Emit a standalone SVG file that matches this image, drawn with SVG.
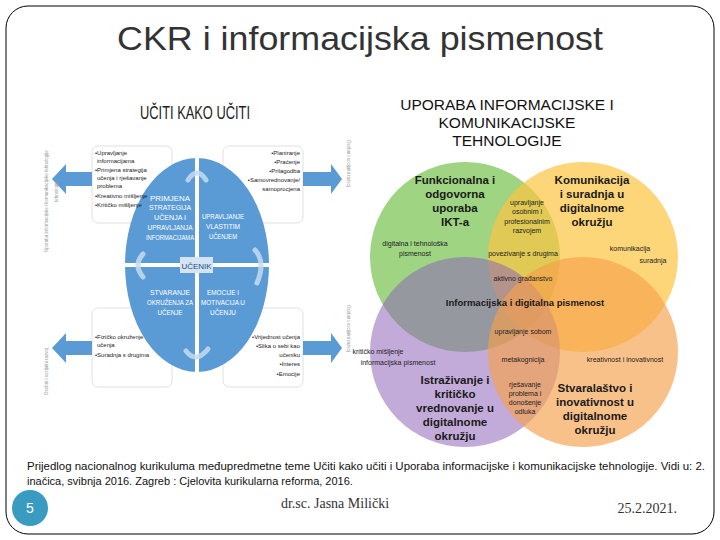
<svg xmlns="http://www.w3.org/2000/svg" width="720" height="540" viewBox="0 0 720 540">
<style>
.t{font-family:"Liberation Sans",Arial,sans-serif}
.ser{font-family:"Liberation Serif","Times New Roman",serif}
.q{font-family:"Liberation Sans",Arial,sans-serif;font-size:7.5px;fill:#fff;text-anchor:middle}
.b{font-family:"Liberation Sans",Arial,sans-serif;font-size:6px;fill:#222}
.v{font-family:"Liberation Sans",Arial,sans-serif;font-size:4.5px;fill:#9a9a9a}
.vb{font-family:"Liberation Sans",Arial,sans-serif;font-size:11.5px;font-weight:bold;fill:#1a1a1a;text-anchor:middle}
.vs{font-family:"Liberation Sans",Arial,sans-serif;font-size:7px;fill:#222;text-anchor:middle}
.box{fill:#fff;stroke:#d8d8d8;stroke-width:0.8}
.arr{fill:#5b9bd5}
.cyc{fill:none;stroke:#c6dcf0;stroke-width:5;stroke-linecap:round;opacity:0.85}
</style>
<rect x="6" y="6" width="708" height="528" rx="22" ry="22" fill="#fff" stroke="#000" stroke-width="1"/>
<text class="t" x="360" y="50" font-size="34" text-anchor="middle" fill="#333" textLength="486" lengthAdjust="spacingAndGlyphs">CKR i informacijska pismenost</text>

<g id="ucitiKakoUciti">
<text class="t" x="195" y="119" font-size="19" text-anchor="middle" fill="#222" textLength="110" lengthAdjust="spacingAndGlyphs">UČITI KAKO UČITI</text>
<rect class="box" x="92" y="146" width="80" height="77" rx="6"/>
<rect class="box" x="223" y="146" width="80" height="77" rx="6"/>
<rect class="box" x="92" y="308" width="80" height="79" rx="6"/>
<rect class="box" x="223" y="308" width="80" height="79" rx="6"/>
<path class="arr" d="M52,179 L66,164 L66,172 L92,172 L92,186 L66,186 L66,194 Z"/>
<path class="arr" d="M52,348 L66,333 L66,341 L92,341 L92,355 L66,355 L66,363 Z"/>
<path class="arr" d="M342,179 L331,164 L331,172 L303,172 L303,186 L331,186 L331,194 Z"/>
<path class="arr" d="M342,348 L331,333 L331,341 L303,341 L303,355 L331,355 L331,363 Z"/>
<ellipse cx="197" cy="265" rx="72" ry="107" fill="#5b9bd5"/>
<rect x="195" y="158" width="4" height="214" fill="#fff"/>
<rect x="125" y="263" width="144" height="4" fill="#fff"/>
<rect x="180" y="257" width="33" height="16" fill="#d4e4f4"/>
<text class="t" x="196.5" y="269" font-size="8" text-anchor="middle" fill="#1f4e79">UČENIK</text>
<path class="cyc" d="M188,180 Q197,166 206,180"/>
<path class="cyc" d="M143,254 Q133,265 143,277"/>
<path class="cyc" d="M255,250 Q266,262 257,283"/>
<path class="cyc" d="M186,351 Q196,364 208,349"/>
<text class="q" x="170" y="201" textLength="40" lengthAdjust="spacingAndGlyphs">PRIMJENA</text>
<text class="q" x="170" y="210" textLength="42" lengthAdjust="spacingAndGlyphs">STRATEGIJA</text>
<text class="q" x="170" y="220" textLength="32" lengthAdjust="spacingAndGlyphs">UČENJA I</text>
<text class="q" x="170" y="230" textLength="45" lengthAdjust="spacingAndGlyphs">UPRAVLJANJA</text>
<text class="q" x="170" y="240" textLength="48" lengthAdjust="spacingAndGlyphs">INFORMACIJAMA</text>
<text class="q" x="223" y="219" textLength="42" lengthAdjust="spacingAndGlyphs">UPRAVLJANJE</text>
<text class="q" x="223" y="229" textLength="34" lengthAdjust="spacingAndGlyphs">VLASTITIM</text>
<text class="q" x="223" y="239" textLength="28" lengthAdjust="spacingAndGlyphs">UČENJEM</text>
<text class="q" x="170" y="295" textLength="40" lengthAdjust="spacingAndGlyphs">STVARANJE</text>
<text class="q" x="170" y="305" textLength="46" lengthAdjust="spacingAndGlyphs">OKRUŽENJA ZA</text>
<text class="q" x="170" y="315" textLength="25" lengthAdjust="spacingAndGlyphs">UČENJE</text>
<text class="q" x="223" y="295" textLength="32" lengthAdjust="spacingAndGlyphs">EMOCIJE I</text>
<text class="q" x="223" y="305" textLength="44" lengthAdjust="spacingAndGlyphs">MOTIVACIJA U</text>
<text class="q" x="223" y="315" textLength="26" lengthAdjust="spacingAndGlyphs">UČENJU</text>
<text class="b" x="95" y="155">•Upravljanje</text>
<text class="b" x="97" y="163">informacijama</text>
<text class="b" x="95" y="172">•Primjena strategija</text>
<text class="b" x="97" y="180">učenja i rješavanje</text>
<text class="b" x="97" y="188">problema</text>
<text class="b" x="95" y="198">•Kreativno mišljenje</text>
<text class="b" x="95" y="207">•Kritičko mišljenje</text>
<g text-anchor="end">
<text class="b" x="300" y="155">•Planiranje</text>
<text class="b" x="300" y="164">•Praćenje</text>
<text class="b" x="300" y="173">•Prilagodba</text>
<text class="b" x="300" y="182">•Samovrednovanje/</text>
<text class="b" x="300" y="191">samoprocjena</text>
<text class="b" x="300" y="339">•Vrijednost učenja</text>
<text class="b" x="300" y="348">•Slika o sebi kao</text>
<text class="b" x="300" y="357">učeniku</text>
<text class="b" x="300" y="366">•Interes</text>
<text class="b" x="300" y="376">•Emocije</text>
</g>
<text class="b" x="95" y="339">•Fizičko okruženje</text>
<text class="b" x="97" y="347">učenja</text>
<text class="b" x="95" y="357">•Suradnja s drugima</text>
<text class="v" transform="translate(48,252) rotate(-90)">Uporaba informacijske i komunikacijske tehnologije</text>
<text class="v" transform="translate(58,202) rotate(-90)">tehnologije</text>
<text class="v" transform="translate(48,395) rotate(-90)">Osobni i socijalni razvoj</text>
<text class="v" transform="translate(347,140) rotate(90)">Osobni i socijalni razvoj</text>
<text class="v" transform="translate(347,305) rotate(90)">Osobni i socijalni razvoj</text>
</g>

<g id="ikt">
<text class="t" x="507" y="110" font-size="15.5" text-anchor="middle" fill="#111">UPORABA INFORMACIJSKE I</text>
<text class="t" x="507" y="128" font-size="15.5" text-anchor="middle" fill="#111">KOMUNIKACIJSKE</text>
<text class="t" x="507" y="146" font-size="15.5" text-anchor="middle" fill="#111">TEHNOLOGIJE</text>
<circle cx="465" cy="257" r="95" fill="#86c963" fill-opacity="0.8"/>
<circle cx="583" cy="257" r="95" fill="#fcc540" fill-opacity="0.7"/>
<circle cx="465" cy="352" r="95" fill="#8f66b8" fill-opacity="0.55"/>
<circle cx="583" cy="352" r="95" fill="#f6a04c" fill-opacity="0.65"/>
<text class="vb" x="455" y="184">Funkcionalna i</text>
<text class="vb" x="455" y="198">odgovorna</text>
<text class="vb" x="455" y="212">uporaba</text>
<text class="vb" x="455" y="226">IKT-a</text>
<text class="vb" x="592" y="184">Komunikacija</text>
<text class="vb" x="592" y="198">i suradnja u</text>
<text class="vb" x="592" y="212">digitalnome</text>
<text class="vb" x="592" y="226">okružju</text>
<text class="vs" x="527" y="205">upravljanje</text>
<text class="vs" x="527" y="214">osobnim i</text>
<text class="vs" x="527" y="224">profesionalnim</text>
<text class="vs" x="527" y="233">razvojem</text>
<text class="vs" x="415" y="246">digitalna i tehnološka</text>
<text class="vs" x="415" y="256">pismenost</text>
<text class="vs" x="523" y="256">povezivanje s drugima</text>
<text class="vs" x="630" y="251">komunikacija</text>
<text class="vs" x="653" y="263">suradnja</text>
<text class="vs" x="523" y="281">aktivno građanstvo</text>
<text class="t" x="525" y="306" font-size="9.5" font-weight="bold" text-anchor="middle" fill="#1a1a1a">Informacijska i digitalna pismenost</text>
<text class="vs" x="523" y="334">upravljanje sobom</text>
<text class="vs" x="378" y="354" text-anchor="start">kritičko mišljenje</text>
<text class="vs" x="398" y="365" text-anchor="start">informacijska pismenost</text>
<text class="vs" x="523" y="362">metakognicija</text>
<text class="vs" x="625" y="362">kreativnost i inovativnost</text>
<text class="vs" x="525" y="387">rješavanje</text>
<text class="vs" x="525" y="396">problema i</text>
<text class="vs" x="525" y="405">donošenje</text>
<text class="vs" x="525" y="414">odluka</text>
<text class="vb" x="455" y="384">Istraživanje i</text>
<text class="vb" x="455" y="398">kritičko</text>
<text class="vb" x="455" y="412">vrednovanje u</text>
<text class="vb" x="455" y="426">digitalnome</text>
<text class="vb" x="455" y="440">okružju</text>
<text class="vb" x="595" y="392">Stvaralaštvo i</text>
<text class="vb" x="595" y="406">inovativnost u</text>
<text class="vb" x="595" y="420">digitalnome</text>
<text class="vb" x="595" y="434">okružju</text>
</g>

<g id="footer">
<text class="t" x="27" y="470" font-size="11" fill="#111" textLength="678" lengthAdjust="spacingAndGlyphs">Prijedlog nacionalnog kurikuluma međupredmetne teme Učiti kako učiti i Uporaba informacijske i komunikacijske tehnologije. Vidi u: 2.</text>
<text class="t" x="27" y="485" font-size="11" fill="#111">inačica, svibnja 2016. Zagreb : Cjelovita kurikularna reforma, 2016.</text>
<circle cx="30" cy="508" r="18" fill="#3a9bc1"/>
<text class="t" x="30" y="513" font-size="14" text-anchor="middle" fill="#fff">5</text>
<text class="ser" x="335" y="508" font-size="14" text-anchor="middle" fill="#333">dr.sc. Jasna Milički</text>
<text class="ser" x="677" y="513" font-size="14" text-anchor="end" fill="#333">25.2.2021.</text>
</g>
</svg>
